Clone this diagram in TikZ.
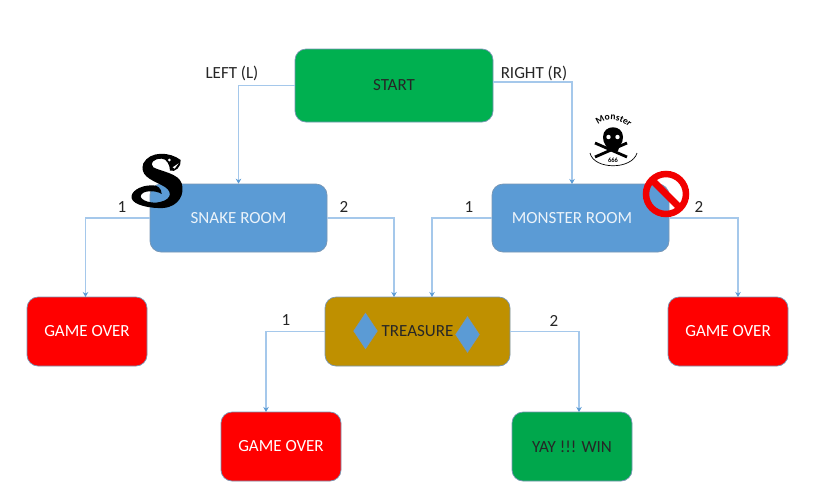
\documentclass[tikz,border=0pt]{standalone}
\usepackage{fontspec}
\setmainfont{Carlito}
\usetikzlibrary{arrows.meta,shapes.geometric,calc,decorations.text}
\definecolor{grn}{RGB}{0,176,80}
\definecolor{blu}{RGB}{91,155,213}
\definecolor{gld}{RGB}{191,144,0}
\definecolor{lnk}{RGB}{165,200,235}
\definecolor{bdr}{RGB}{120,150,180}
\tikzset{x=1pt,y=-1pt,
 roomb/.style={draw=bdr,line width=.7pt,rounded corners=11pt,inner sep=0pt,font=\fontsize{17}{19}\selectfont},
 startb/.style={roomb,fill=grn,text=black!85,minimum width=198pt,minimum height=73pt},
 roomc/.style={roomb,fill=blu,text=white!88!blu,minimum width=177pt,minimum height=68pt},
 treas/.style={roomb,fill=gld,text=black!85,minimum width=185pt,minimum height=69pt},
 overb/.style={roomb,fill=red,text=white,minimum width=120pt,minimum height=69pt},
 winb/.style={roomb,fill=grn!95!black,text=black!85,minimum width=120pt,minimum height=69pt},
 link/.style={draw=lnk,line width=1.3pt,-{Stealth[length=5pt,width=5.5pt,color=blu]}},
 lab/.style={font=\fontsize{17}{19}\selectfont,text=black!85,inner sep=0pt},
 gem/.style={diamond,fill=blu,draw=bdr,line width=.4pt,inner sep=0pt,aspect=.66,minimum width=24pt,minimum height=36pt}
}
\begin{document}
\begin{tikzpicture}
\useasboundingbox (0,0) rectangle (817,491);
\fill[white] (0,0) rectangle (817,491);
\node[startb] (start) at (394,85.5) {START};
\node[roomc] (snake) at (238.5,218) {SNAKE ROOM};
\node[roomc] (monster) at (580.5,218) {\hspace*{-17pt}MONSTER ROOM};
\node[treas] (treasure) at (417.5,331.5) {TREASURE};
\node[overb] (over1) at (87,331.5) {GAME OVER};
\node[overb] (over2) at (728,331.5) {GAME OVER};
\node[overb] (over3) at (281,446.5) {GAME OVER};
\node[winb] (win) at (572,446.5) {YAY !!! WIN};
\node[gem] (gemL) at (365.5,331) {};
\node[gem] (gemR) at (467.5,334.5) {};
% connector ends
\coordinate (sright) at (493,82);
\coordinate (mtop) at (572,184);
\coordinate (t1) at (394,297);
\coordinate (t2) at (432,297);
\coordinate (o1) at (85.5,297);
\coordinate (o2) at (738,297);
\coordinate (o3) at (266,412);
\coordinate (w) at (579,412);
\draw[link] (start.west) -| (snake.north);
\draw[link] (sright) -| (mtop);
\draw[link] (snake.west) -| (o1);
\draw[link] (snake.east) -| (t1);
\draw[link] (monster.west) -| (t2);
\draw[link] (monster.east) -| (o2);
\draw[link] (treasure.west) -| (o3);
\draw[link] (treasure.east) -| (w);
% labels
\node[lab] (lleft) at (232,73) {LEFT (L)};
\node[lab] (lright) at (534,73) {RIGHT (R)};
\node[lab] (s1) at (122,207) {1};
\node[lab] (s2) at (344,207) {2};
\node[lab] (m1) at (469,207) {1};
\node[lab] (m2) at (699,207) {2};
\node[lab] (t1l) at (286,320) {1};
\node[lab] (t2l) at (554,321) {2};
% snake (coordinates in the 3x crop of the snake)
\begin{scope}[shift={(120,110)},x=.3333pt,y=-.3333pt]
\fill[black] (182,150) .. controls (150,125) and (90,122) .. (70,160)
  .. controls (58,195) and (90,208) .. (122,224)
  .. controls (160,240) and (158,268) .. (120,276)
  .. controls (95,282) and (62,272) .. (62,258)
  .. controls (66,240) and (108,240) .. (125,252)
  .. controls (125,235) and (112,224) .. (95,226)
  .. controls (60,226) and (30,245) .. (35,265)
  .. controls (40,285) and (90,296) .. (130,294)
  .. controls (178,290) and (195,250) .. (185,220)
  .. controls (175,190) and (125,185) .. (100,172)
  .. controls (88,160) and (100,146) .. (125,146)
  .. controls (140,146) and (150,165) .. (150,182)
  .. controls (165,188) and (185,170) .. (182,150) -- cycle;
\fill[white] (148,150) circle (4.5);
\fill[white] (158,172) -- (176,160) -- (164,176) -- cycle;
\end{scope}
% skull emblem
\begin{scope}[black]
\path[postaction={decorate,decoration={text along path,text align=center,
  text={|\fontsize{9.5}{10}\selectfont\bfseries|Monster}}}]
  (594,131) .. controls (600,116) and (624,116) .. (633,133);
\fill (603,137) .. controls (603,124) and (623,124) .. (623,137)
  .. controls (623,144) and (619,145) .. (618,151) -- (608,151) .. controls (607,145) and (603,144) .. (603,137) -- cycle;
\draw[line width=2.8pt] (595,143) -- (627,157);
\draw[line width=2.8pt] (627,143) -- (595,157);
\fill[white] (608.5,137) circle (2.2pt) (617.5,137) circle (2.2pt);
\draw[line width=.7pt] (590,153) .. controls (594,170) and (632,170) .. (637,153);
\node[fill=white,inner sep=.6pt,font=\fontsize{6.5}{7}\selectfont\bfseries] (mnum) at (613,160.5) {666};
\end{scope}
% prohibition sign
\draw[red!95!black,line width=6.5pt] (666,194) circle (20pt);
\draw[red!95!black,line width=7pt] (652,180) -- (680,208);
\end{tikzpicture}
\end{document}
